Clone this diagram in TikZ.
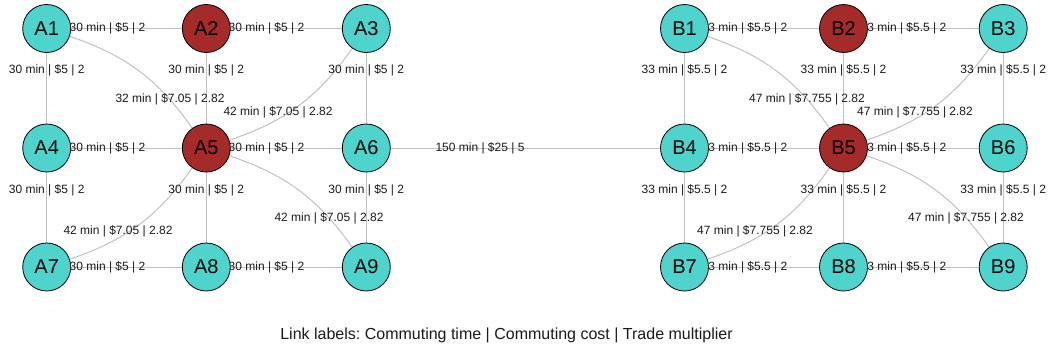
\documentclass[tikz,border=0pt]{standalone}
\usepackage{fontspec}
\setmainfont{Liberation Sans}
\usetikzlibrary{backgrounds}
\definecolor{turq}{RGB}{78,212,204}
\definecolor{brk}{RGB}{165,42,42}
\definecolor{edgegray}{RGB}{192,192,192}
\frenchspacing
\begin{document}
\begin{tikzpicture}[x=1pt,y=-1pt,
  city/.style={circle,draw=black,line width=0.8pt,minimum size=48pt,inner sep=0pt,font=\fontsize{20}{24}\selectfont},
  hub/.style={city,fill=brk},
  spoke/.style={city,fill=turq},
  link/.style={draw=edgegray,line width=1pt},
  lbl/.style={font=\fontsize{12}{14}\selectfont,inner sep=0pt,text=black!90},
  captext/.style={font=\fontsize{16}{19}\selectfont,inner sep=0pt,text=black!90}
]
\useasboundingbox (0,0) rectangle (1052,360);
% ---- region A nodes
\node[spoke] (A1) at (46.7,28.5) {A1};
\node[hub]   (A2) at (206.3,28.5) {A2};
\node[spoke] (A3) at (366.3,28.5) {A3};
\node[spoke] (A4) at (46.7,148) {A4};
\node[hub]   (A5) at (206.3,148) {A5};
\node[spoke] (A6) at (366.3,148) {A6};
\node[spoke] (A7) at (46.7,267) {A7};
\node[spoke] (A8) at (206.3,267) {A8};
\node[spoke] (A9) at (366.3,267) {A9};
% ---- region B nodes
\node[spoke] (B1) at (684.5,28.5) {B1};
\node[hub]   (B2) at (843.5,28.5) {B2};
\node[spoke] (B3) at (1003.2,28.5) {B3};
\node[spoke] (B4) at (684.5,148) {B4};
\node[hub]   (B5) at (843.5,148) {B5};
\node[spoke] (B6) at (1003.2,148) {B6};
\node[spoke] (B7) at (684.5,267) {B7};
\node[spoke] (B8) at (843.5,267) {B8};
\node[spoke] (B9) at (1003.2,267) {B9};
\begin{pgfonlayer}{background}
% ---- edges A
\draw[link] (A1) -- (A2);
\draw[link] (A2) -- (A3);
\draw[link] (A4) -- (A5);
\draw[link] (A5) -- (A6);
\draw[link] (A7) -- (A8);
\draw[link] (A8) -- (A9);
\draw[link] (A1) -- (A4);
\draw[link] (A4) -- (A7);
\draw[link] (A2) -- (A5);
\draw[link] (A5) -- (A8);
\draw[link] (A3) -- (A6);
\draw[link] (A6) -- (A9);
\draw[link] (A1) to[bend left=18] (A5);
\draw[link] (A3) to[bend left=18] (A5);
\draw[link] (A5) to[bend left=18] (A7);
\draw[link] (A5) to[bend left=18] (A9);
% ---- edges B
\draw[link] (B1) -- (B2);
\draw[link] (B2) -- (B3);
\draw[link] (B4) -- (B5);
\draw[link] (B5) -- (B6);
\draw[link] (B7) -- (B8);
\draw[link] (B8) -- (B9);
\draw[link] (B1) -- (B4);
\draw[link] (B4) -- (B7);
\draw[link] (B2) -- (B5);
\draw[link] (B5) -- (B8);
\draw[link] (B3) -- (B6);
\draw[link] (B6) -- (B9);
\draw[link] (B1) to[bend left=18] (B5);
\draw[link] (B3) to[bend left=18] (B5);
\draw[link] (B5) to[bend left=18] (B7);
\draw[link] (B5) to[bend left=18] (B9);
% ---- inter-region link
\draw[link] (A6) -- (B4);
% ---- labels A
\node[lbl] (la12) at (107.5,28.5) {30 min | \$5 | 2};
\node[lbl] (la23) at (266.5,28.5) {30 min | \$5 | 2};
\node[lbl] (la45) at (107.5,148) {30 min | \$5 | 2};
\node[lbl] (la56) at (266.5,148) {30 min | \$5 | 2};
\node[lbl] (la78) at (107.5,267) {30 min | \$5 | 2};
\node[lbl] (la89) at (266.5,267) {30 min | \$5 | 2};
\node[lbl] (la14) at (46.7,70) {30 min | \$5 | 2};
\node[lbl] (la25) at (206.3,70) {30 min | \$5 | 2};
\node[lbl] (la36) at (366.3,70) {30 min | \$5 | 2};
\node[lbl] (la47) at (46.7,190) {30 min | \$5 | 2};
\node[lbl] (la58) at (206.3,190) {30 min | \$5 | 2};
\node[lbl] (la69) at (366.3,190) {30 min | \$5 | 2};
\node[lbl] (la15) at (170,99) {32 min | \$7.05 | 2.82};
\node[lbl] (la35) at (278,112) {42 min | \$7.05 | 2.82};
\node[lbl] (la57) at (118,231) {42 min | \$7.05 | 2.82};
\node[lbl] (la59) at (329,218) {42 min | \$7.05 | 2.82};
% ---- labels B
\node[lbl] (lb12) at (744.5,28.5) {33 min | \$5.5 | 2};
\node[lbl] (lb23) at (903.5,28.5) {33 min | \$5.5 | 2};
\node[lbl] (lb45) at (744.5,148) {33 min | \$5.5 | 2};
\node[lbl] (lb56) at (903.5,148) {33 min | \$5.5 | 2};
\node[lbl] (lb78) at (744.5,267) {33 min | \$5.5 | 2};
\node[lbl] (lb89) at (903.5,267) {33 min | \$5.5 | 2};
\node[lbl] (lb14) at (684.5,70) {33 min | \$5.5 | 2};
\node[lbl] (lb25) at (843.5,70) {33 min | \$5.5 | 2};
\node[lbl] (lb36) at (1003.2,70) {33 min | \$5.5 | 2};
\node[lbl] (lb47) at (684.5,190) {33 min | \$5.5 | 2};
\node[lbl] (lb58) at (843.5,190) {33 min | \$5.5 | 2};
\node[lbl] (lb69) at (1003.2,190) {33 min | \$5.5 | 2};
\node[lbl] (lb15) at (807,99) {47 min | \$7.755 | 2.82};
\node[lbl] (lb35) at (915,112) {47 min | \$7.755 | 2.82};
\node[lbl] (lb57) at (755,231) {47 min | \$7.755 | 2.82};
\node[lbl] (lb59) at (966,218) {47 min | \$7.755 | 2.82};
% ---- inter-region label
\node[lbl] (lab) at (480,148) {150 min | \$25 | 5};
\end{pgfonlayer}
\node[captext] (caption) at (506.5,335) {Link labels: Commuting time | Commuting cost | Trade multiplier};
\end{tikzpicture}
\end{document}
